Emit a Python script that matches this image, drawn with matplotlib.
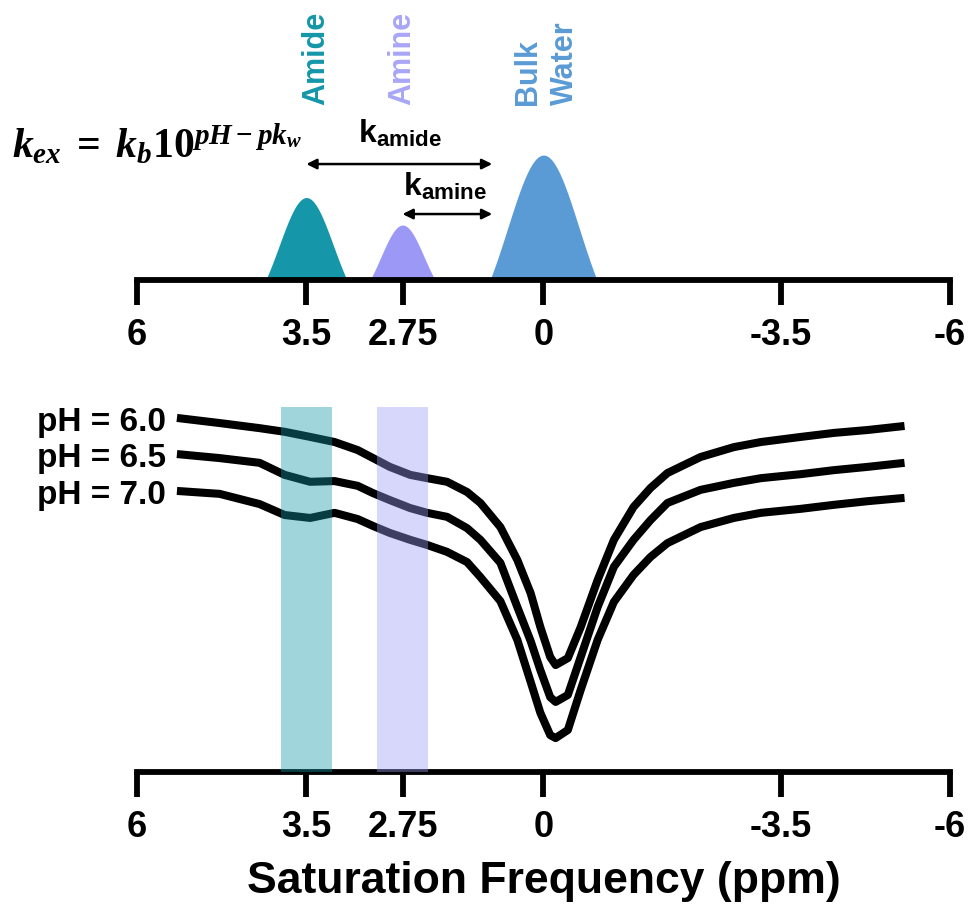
import numpy as np
import matplotlib
matplotlib.use('Agg')
import matplotlib.pyplot as plt

plt.rcParams['font.family'] = ['Liberation Sans', 'DejaVu Sans']
plt.rcParams['font.weight'] = 'bold'
plt.rcParams['mathtext.fontset'] = 'custom'
plt.rcParams['mathtext.it'] = 'Liberation Serif:italic:bold'
plt.rcParams['mathtext.rm'] = 'Liberation Serif:bold'
plt.rcParams['mathtext.bf'] = 'Liberation Sans:bold'

# ticks shared by both panels
tick_ppm = [6, 3.5, 2.75, 0, -3.5, -6]
tick_labels = ['6', '3.5', '2.75', '0', '-3.5', '-6']

# the schematic axis is not linear between 0 and 3.5 ppm
knot_ppm = [-6, 0, 2.75, 3.5, 6]
knot_pos = [-6, 0, 2.08, 3.5, 6]

# exchanging pools (top panel)
pool_names = ['Amide', 'Amine', 'Bulk\nWater']
pool_ppm = [3.5, 2.75, 0]
pool_height = [0.66, 0.44, 1.0]
pool_halfwidth = [0.6, 0.48, 0.79]
pool_colors = ['#1597a9', '#9c99f6', '#5b9bd5']
label_colors = ['#1597a9', '#a9a6f7', '#5b9bd5']

# z-spectra (bottom panel), normalised signal
ph_labels = ['pH = 6.0', 'pH = 6.5', 'pH = 7.0']
freq = [5.41, 4.78, 4.19, 3.82, 3.47, 3.28, 3.10, 2.98, 2.85, 2.60, 2.27,
        1.88, 1.49, 1.23, 0.84, 0.51, 0.25, 0.06, -0.10, -0.18, -0.36,
        -0.55, -0.80, -1.04, -1.33, -1.58, -1.83, -2.32, -2.81, -3.21,
        -3.80, -4.29, -4.79, -5.33]
z_ph60 = [0.970, 0.956, 0.942, 0.932, 0.918, 0.904, 0.882, 0.860, 0.836,
          0.814, 0.805, 0.795, 0.767, 0.737, 0.671, 0.581, 0.490, 0.397,
          0.315, 0.293, 0.312, 0.397, 0.526, 0.636, 0.726, 0.778, 0.819,
          0.863, 0.890, 0.904, 0.918, 0.929, 0.937, 0.948]
z_ph65 = [0.871, 0.860, 0.847, 0.814, 0.795, 0.797, 0.784, 0.764, 0.745,
          0.723, 0.710, 0.699, 0.668, 0.636, 0.573, 0.452, 0.359, 0.279,
          0.205, 0.192, 0.211, 0.315, 0.452, 0.562, 0.636, 0.690, 0.737,
          0.773, 0.792, 0.805, 0.816, 0.827, 0.836, 0.847]
z_ph70 = [0.770, 0.762, 0.734, 0.704, 0.696, 0.710, 0.693, 0.674, 0.655,
          0.636, 0.622, 0.603, 0.575, 0.534, 0.468, 0.362, 0.247, 0.162,
          0.101, 0.093, 0.115, 0.225, 0.362, 0.466, 0.540, 0.589, 0.627,
          0.671, 0.696, 0.710, 0.721, 0.732, 0.742, 0.751]


def fwd(x):
    return np.interp(x, knot_ppm, knot_pos)


def inv(x):
    return np.interp(x, knot_pos, knot_ppm)


def style_axis(ax):
    ax.set_xscale('function', functions=(fwd, inv))
    ax.set_xlim(6, -6)
    for s in ['left', 'right', 'top']:
        ax.spines[s].set_visible(False)
    ax.spines['bottom'].set_linewidth(4.2)
    ax.spines['bottom'].set_capstyle('projecting')
    ax.set_yticks([])
    ax.set_xticks(tick_ppm)
    ax.set_xticklabels(tick_labels, fontsize=26, fontweight='bold')
    ax.minorticks_off()
    ax.tick_params(axis='x', length=18, width=4.2, pad=9, direction='out')


fig = plt.figure(figsize=(9.7, 9.16), dpi=100)
ax_top = fig.add_axes([0.1412, 0.6943, 0.8381, 0.1528])
ax_bot = fig.add_axes([0.1412, 0.1572, 0.8381, 0.3985])

# ---- top panel: pools ----
style_axis(ax_top)
ax_top.set_ylim(0, 1.12)
cut = np.exp(-1.125)
for c, h, hw, col in zip(pool_ppm, pool_height, pool_halfwidth, pool_colors):
    off = np.linspace(-hw, hw, 121)
    sig = hw / 1.5
    y = h * (np.exp(-0.5 * (off / sig) ** 2) - cut) / (1 - cut)
    xs = inv(fwd(c) + off)
    ax_top.fill_between(xs, 0, y, color=col, lw=0, clip_on=False)

label_x = [3.42, 2.75, -0.05]
for name, x, col in zip(pool_names, label_x, label_colors):
    ax_top.text(x, 1.4, name, rotation=90, ha='center', va='bottom',
                multialignment='left', color=col, fontsize=22,
                fontweight='bold', clip_on=False, linespacing=1.3)

arrow = dict(arrowstyle='<|-|>', lw=1.8, color='black', mutation_scale=15,
             shrinkA=0, shrinkB=0)
ax_top.annotate('', xy=(1.0, 0.928), xytext=(3.5, 0.928),
                arrowprops=arrow, annotation_clip=False)
ax_top.annotate('', xy=(1.0, 0.528), xytext=(2.75, 0.528),
                arrowprops=arrow, annotation_clip=False)
ax_top.text(2.77, 1.1, r'$\mathbf{k}_{\mathbf{amide}}$', ha='center',
            va='baseline', fontsize=23, clip_on=False)
ax_top.text(1.93, 0.68, r'$\mathbf{k}_{\mathbf{amine}}$', ha='center',
            va='baseline', fontsize=23, clip_on=False)

fig.text(0.012, 0.828, r'$k_{ex}\;=\;k_b\mathrm{10}^{pH-pk_w}$',
         fontsize=30, ha='left', va='baseline')

# ---- bottom panel: z-spectra ----
style_axis(ax_bot)
ax_bot.set_ylim(0, 1)
for z, lab in zip([z_ph60, z_ph65, z_ph70], ph_labels):
    ax_bot.plot(freq, z, color='black', lw=5.8, solid_capstyle='butt',
                solid_joinstyle='round', zorder=2)
    ax_bot.annotate(lab, xy=(freq[0], z[0]), xytext=(-8, -3),
                    textcoords='offset points', ha='right', va='center',
                    fontsize=24, fontweight='bold', annotation_clip=False)

for c, col in zip(pool_ppm[:2], pool_colors[:2]):
    ax_bot.axvspan(inv(fwd(c) + 0.375), inv(fwd(c) - 0.375), ymin=0, ymax=1,
                   color=col, alpha=0.4, lw=0, zorder=3)

ax_bot.set_xlabel('Saturation Frequency (ppm)', fontsize=32,
                  fontweight='bold', labelpad=12)

fig.savefig('out.png', dpi=100)
